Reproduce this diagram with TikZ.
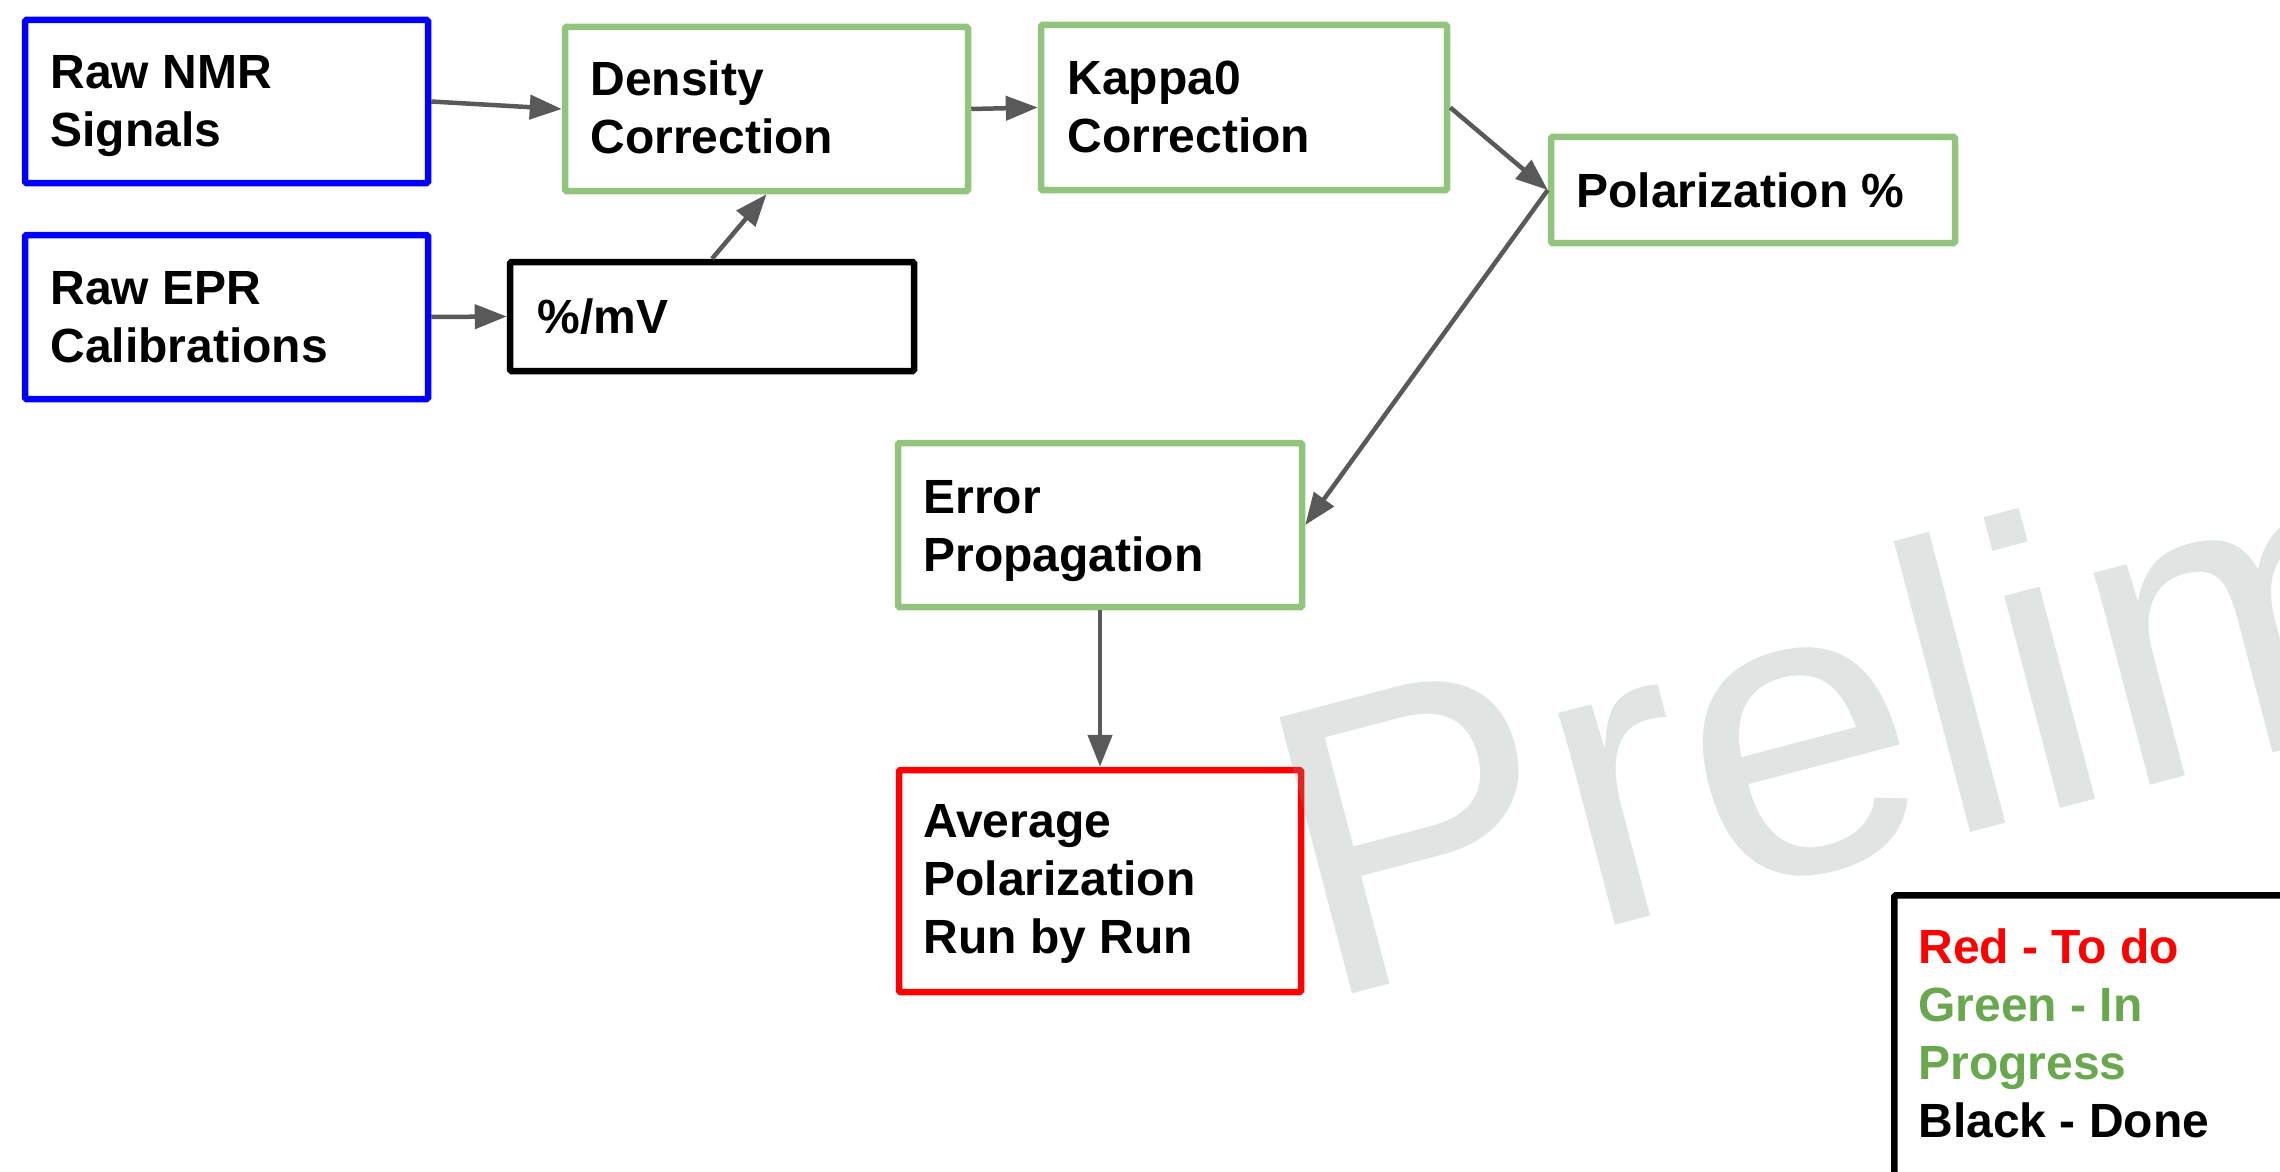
\documentclass[tikz,border=0pt]{standalone}
\usepackage{fontspec}
\setmainfont{Liberation Sans}
\usetikzlibrary{arrows.meta,calc}

\definecolor{todoRed}{RGB}{255,0,0}
\definecolor{progGreen}{HTML}{93C47D}
\definecolor{progText}{HTML}{6AA84F}
\definecolor{inputBlue}{RGB}{0,0,255}
\definecolor{flowGray}{HTML}{595959}
\definecolor{markGray}{RGB}{135,155,147}

\begin{document}
\begin{tikzpicture}[x=0.5pt,y=-0.5pt,
  stage/.style={draw=#1, line width=3.25pt, rounded corners=0.75pt, fill=white, inner sep=0pt},
  % labels are placed by the baseline of their last line
  lbl/.style={font=\bfseries\fontsize{24pt}{29pt}\selectfont, align=left, inner sep=0pt, anchor=base west},
  conn/.style={draw=flowGray, line width=2.25pt, -{Triangle[length=16pt,width=12pt]}},
  wmark/.style={font=\fontsize{207.5pt}{207.5pt}\selectfont, text=markGray, text opacity=0.25,
    rotate=14.7, anchor=base west, inner sep=0pt}
]
\useasboundingbox (0,0) rectangle (2280,1172);
\fill[white] (0,0) rectangle (2280,1172);

% stage boxes
\node[stage=inputBlue, minimum width=201.5pt, minimum height=81.5pt] (nmr) at (226.5,101.5) {};
\node[stage=inputBlue, minimum width=201.5pt, minimum height=82pt] (epr) at (226.5,317) {};
\node[stage=progGreen, minimum width=201.5pt, minimum height=82pt] (dens) at (766.5,109) {};
\node[stage=black, minimum width=202pt, minimum height=54.5pt] (pmv) at (712,316.5) {};
\node[stage=progGreen, minimum width=203pt, minimum height=82.5pt] (kappa) at (1244,107.5) {};
\node[stage=progGreen, minimum width=202pt, minimum height=53pt] (pol) at (1753,190) {};
\node[stage=progGreen, minimum width=202pt, minimum height=82pt] (err) at (1100,525) {};
\node[stage=todoRed, minimum width=201pt, minimum height=111pt] (avg) at (1100,881) {};

% box labels
\node[lbl] (nmrT) at (50,147) {Raw NMR\\Signals};
\node[lbl] (eprT) at (50,362) {Raw EPR\\Calibrations};
\node[lbl] (densT) at (590,154) {Density\\Correction};
\node[lbl] (pmvT) at (537,333) {\%/mV};
\node[lbl] (kappaT) at (1067,153) {Kappa0\\Correction};
\node[lbl] (polT) at (1576,207) {Polarization \%};
\node[lbl] (errT) at (923,571) {Error\\Propagation};
\node[lbl] (avgT) at (923,953) {Average\\Polarization\\Run by Run};

% data flow
\draw[conn] (nmr.east) -- (dens.west);
\draw[conn] (epr.east) -- (pmv.west);
\draw[conn] (pmv.north) -- (dens.south);
\draw[conn] (dens.east) -- (kappa.west);
\draw[conn] (kappa.east) -- (pol.west);
\draw[conn] (pol.west) -- (err.east);
\draw[conn] (err.south) -- (avg.north);

% status key
\node[draw=black, line width=3.25pt, rounded corners=0.75pt, anchor=north west,
      minimum width=254.5pt, minimum height=200pt, inner sep=0pt] (key) at (1891,892) {};
\node[lbl] (keyT) at (1918,1137) {{\color{todoRed}Red - To do}\\{\color{progText}Green - In}\\{\color{progText}Progress}\\Black - Done};

% watermark
\begin{scope}
  \clip (0,0) rectangle (2280,1172);
  \node[wmark] (wm) at (1319,1003) {Preliminary};
\end{scope}
\end{tikzpicture}
\end{document}
